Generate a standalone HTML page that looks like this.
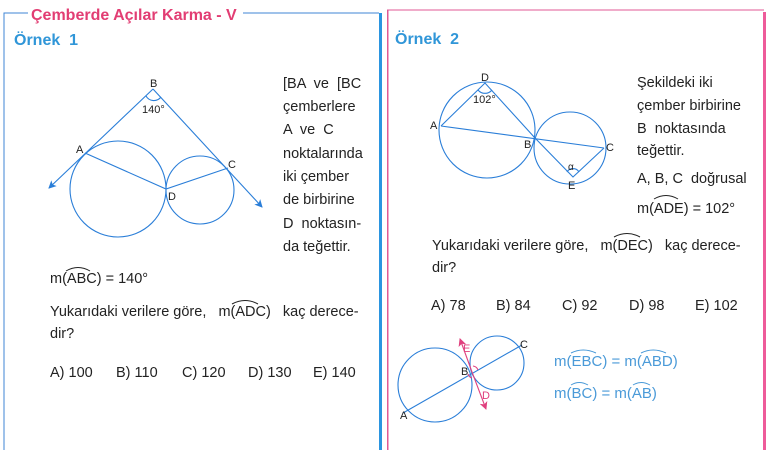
<!DOCTYPE html>
<html><head><meta charset="utf-8"><style>
body{margin:0;background:#fff;}
svg{display:block;font-family:"Liberation Sans",sans-serif;}
text{white-space:pre;}
</style></head><body>
<svg width="773" height="450" viewBox="0 0 773 450" xmlns="http://www.w3.org/2000/svg" xml:space="preserve">
<defs>
<marker id="ar" markerWidth="8" markerHeight="8" refX="7" refY="4" orient="auto" markerUnits="userSpaceOnUse"><path d="M0,0 L8,4 L0,8 L2,4z" fill="#2a7ed8"/></marker>
<marker id="arp" markerWidth="8" markerHeight="8" refX="7" refY="4" orient="auto" markerUnits="userSpaceOnUse"><path d="M0,0 L8,4 L0,8 L2,4z" fill="#e0407e"/></marker>
</defs>
<path d="M28,13 H4 V450" fill="none" stroke="#3f86d6" stroke-width="1"/>
<path d="M243,13 H379" fill="none" stroke="#3f86d6" stroke-width="1"/>
<rect x="379" y="13" width="3" height="437" fill="#2b95e0"/>
<text x="31" y="20" font-size="16" font-weight="bold" fill="#e23d73">Çemberde Açılar Karma - V</text>
<rect x="387" y="10" width="1.5" height="440" fill="#e05a94"/>
<path d="M387,10 H764" stroke="#e05a94" stroke-width="1" fill="none"/>
<rect x="763" y="12" width="3" height="438" fill="#ee5b9a"/>

<text x="14" y="45" font-size="16" font-weight="bold" fill="#3096d8">Örnek  1</text>
<text x="395" y="44" font-size="16" font-weight="bold" fill="#3096d8">Örnek  2</text>

<g stroke="#2a7ed8" stroke-width="1.1" fill="none">
<circle cx="118" cy="189" r="48"/>
<circle cx="200" cy="190" r="34"/>
<line x1="153" y1="89" x2="49" y2="188" marker-end="url(#ar)"/>
<line x1="153" y1="89" x2="262" y2="207" marker-end="url(#ar)"/>
<polyline points="85,153 166,189 228,168"/>
<path d="M146,96 A9,9 0 0 0 161,97"/>
</g>
<g font-size="11" fill="#222">
<text x="150" y="87">B</text>
<text x="142" y="113">140°</text>
<text x="76" y="153">A</text>
<text x="228" y="168">C</text>
<text x="168" y="200">D</text>
</g>
<g font-size="14.5" fill="#222">
<text x="283" y="88">[BA  ve  [BC</text>
<text x="283" y="111">çemberlere</text>
<text x="283" y="134">A  ve  C</text>
<text x="283" y="158">noktalarında</text>
<text x="283" y="181">iki çember</text>
<text x="283" y="204">de birbirine</text>
<text x="283" y="228">D  noktasın-</text>
<text x="283" y="251">da teğettir.</text>
</g>
<g font-size="14.5" fill="#222">
<text x="50" y="283">m(ABC) = 140°</text>
<path d="M66,271 Q78,264 90,271" stroke="#222" fill="none"/>
<text x="50" y="316">Yukarıdaki verilere göre,   m(ADC)   kaç derece-</text>
<path d="M232,304 Q245,297 258,304" stroke="#222" fill="none"/>
<text x="50" y="338">dir?</text>
<text x="50" y="377">A) 100</text><text x="116" y="377">B) 110</text><text x="182" y="377">C) 120</text><text x="248" y="377">D) 130</text><text x="313" y="377">E) 140</text>
</g>

<g stroke="#2a7ed8" stroke-width="1.1" fill="none">
<circle cx="487" cy="130" r="48"/>
<circle cx="570" cy="148" r="36"/>
<polyline points="441,126 485,83 535,138 573,177 604,148"/>
<line x1="441" y1="126" x2="604" y2="148"/>
<path d="M478,90 A9,9 0 0 0 492,90"/>
<path d="M567,172 A7,7 0 0 1 579,172"/>
</g>
<g font-size="11" fill="#222">
<text x="481" y="81">D</text>
<text x="473" y="103">102°</text>
<text x="430" y="129">A</text>
<text x="524" y="148">B</text>
<text x="606" y="151">C</text>
<text x="568" y="189">E</text>
<text x="568" y="170" font-size="10">α</text>
</g>
<g font-size="14.5" fill="#222">
<text x="637" y="87">Şekildeki iki</text>
<text x="637" y="110">çember birbirine</text>
<text x="637" y="133">B  noktasında</text>
<text x="637" y="155">teğettir.</text>
<text x="637" y="183">A, B, C  doğrusal</text>
<text x="637" y="213">m(ADE) = 102°</text>
<path d="M654,199 Q666,192 678,199" stroke="#222" fill="none"/>
<text x="432" y="250">Yukarıdaki verilere göre,   m(DEC)   kaç derece-</text>
<path d="M614,237 Q627,230 640,237" stroke="#222" fill="none"/>
<text x="432" y="272">dir?</text>
<text x="431" y="310">A) 78</text><text x="496" y="310">B) 84</text><text x="562" y="310">C) 92</text><text x="629" y="310">D) 98</text><text x="695" y="310">E) 102</text>
</g>

<g stroke="#2a7ed8" stroke-width="1.1" fill="none">
<circle cx="435" cy="385" r="37"/>
<circle cx="497" cy="363" r="27"/>
<line x1="403" y1="413" x2="522" y2="345"/>
</g>
<g stroke="#e0407e" stroke-width="1.1" fill="none">
<line x1="472" y1="372" x2="460" y2="339" marker-end="url(#arp)"/>
<line x1="472" y1="372" x2="486" y2="409" marker-end="url(#arp)"/>
<path d="M473,366 A6,6 0 0 1 478,370"/>
<path d="M468,374 A6,6 0 0 0 472,378"/>
</g>
<g font-size="11">
<text x="463" y="352" fill="#e0407e">E</text>
<text x="482" y="399" fill="#e0407e">D</text>
<text x="461" y="375" fill="#222">B</text>
<text x="400" y="419" fill="#222">A</text>
<text x="520" y="348" fill="#222">C</text>
</g>
<g font-size="15" fill="#4a9ad8">
<text x="554" y="366">m(EBC) = m(ABD)</text>
<path d="M571,353 Q583,347 596,353" stroke="#4a9ad8" fill="none"/>
<path d="M641,353 Q653,347 666,353" stroke="#4a9ad8" fill="none"/>
<text x="554" y="398">m(BC) = m(AB)</text>
<path d="M571,385 Q579,380 588,385" stroke="#4a9ad8" fill="none"/>
<path d="M633,385 Q641,380 650,385" stroke="#4a9ad8" fill="none"/>
</g>
</svg>
</body></html>
